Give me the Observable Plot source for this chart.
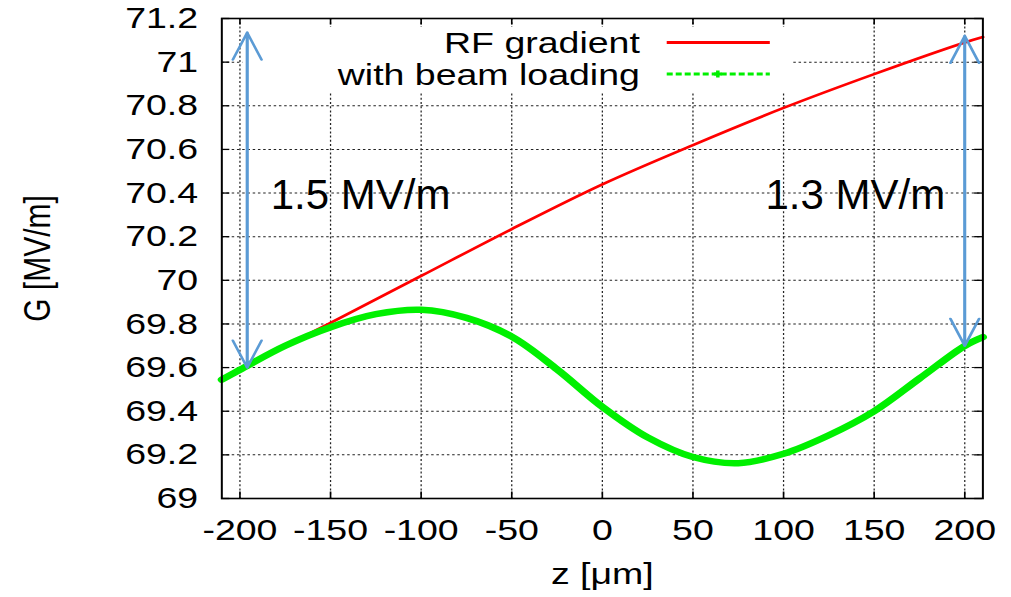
<!DOCTYPE html>
<html>
<head>
<meta charset="utf-8">
<script src="https://cdn.jsdelivr.net/npm/d3@7"></script>
<script src="https://cdn.jsdelivr.net/npm/@observablehq/plot@0.6"></script>
<style>
  html, body { margin: 0; padding: 0; background: #fff; overflow: hidden; }
  #wrap { position: relative; width: 809px; height: 597px; transform: scaleX(1.2497); transform-origin: 0 0; }
</style>
</head>
<body>
<div id="wrap"></div>
<script>
// ---- data ----
const zGreen = [-210, -200, -175, -150, -125, -100, -75, -50, -25, 0, 25, 50, 75, 100, 125, 150, 175, 200, 210];
const gBeam  = [69.545, 69.59, 69.70, 69.785, 69.845, 69.865, 69.828, 69.742, 69.592, 69.42, 69.28, 69.19, 69.162, 69.205, 69.29, 69.40, 69.55, 69.70, 69.74];
const zRed   = [-210, -200, -175, -150, -100, -50, 0, 50, 100, 150, 200, 210];
const gRF    = [69.545, 69.59, 69.70, 69.805, 70.02, 70.235, 70.44, 70.62, 70.79, 70.945, 71.09, 71.115];
const xTicks = [-200, -150, -100, -50, 0, 50, 100, 150, 200];
const yTicks = [69, 69.2, 69.4, 69.6, 69.8, 70, 70.2, 70.4, 70.6, 70.8, 71, 71.2];
const seriesNames = ["RF gradient", "with beam loading"];
const arrowZ  = [-196, 200];
const arrowLo = [69.60, 69.70];
const arrowHi = [71.135, 71.12];
const annText = ["1.5 MV/m", "1.3 MV/m"];
const annZ    = [-183, 90];
const annG    = [70.325, 70.325];

const rf = zRed.map((z, i) => ({z, g: gRF[i]}));
const beam = zGreen.map((z, i) => ({z, g: gBeam[i]}));

const W = 809, H = 597, mL = 177, mR = 23, mT = 18, mB = 99;
const plotW = W - mL - mR, plotH = H - mT - mB;
const tl = 6.5;
const gridStyle = {stroke: "#222", strokeOpacity: 1, strokeWidth: 1, strokeDasharray: "2,2.2"};

const chart = Plot.plot({
  width: W, height: H,
  marginLeft: mL, marginRight: mR, marginTop: mT, marginBottom: mB,
  x: {domain: [-210, 210], labelArrow: "none"},
  y: {domain: [69, 71.2], labelArrow: "none"},
  style: {fontFamily: "'Liberation Sans', Arial, sans-serif", fontSize: "30px", background: "#fff", color: "#000"},
  marks: [
    Plot.gridX(xTicks, gridStyle),
    Plot.gridY(yTicks, gridStyle),
    Plot.line(rf, {x: "z", y: "g", stroke: "#ff0000", strokeWidth: 2.6, curve: "catmull-rom"}),
    Plot.line(beam, {x: "z", y: "g", stroke: "#00f000", strokeWidth: 6.5, curve: "catmull-rom"}),
    Plot.frame({stroke: "#000", strokeWidth: 1.6}),
    Plot.tickX(xTicks, {x: d => d, stroke: "#000", strokeWidth: 1.3, insetBottom: plotH - tl}),
    Plot.tickX(xTicks, {x: d => d, stroke: "#000", strokeWidth: 1.3, insetTop: plotH - tl}),
    Plot.tickY(yTicks, {y: d => d, stroke: "#000", strokeWidth: 1.3, insetRight: plotW - tl}),
    Plot.tickY(yTicks, {y: d => d, stroke: "#000", strokeWidth: 1.3, insetLeft: plotW - tl}),
    Plot.axisX(xTicks, {anchor: "bottom", tickSize: 0, tickPadding: 20, tickFormat: d => String(d),
      label: "z [μm]", labelAnchor: "center", labelOffset: 85, labelArrow: "none"}),
    Plot.axisY(yTicks, {anchor: "left", tickSize: 0, tickPadding: 19, tickFormat: d => String(d),
      label: "G [MV/m]", labelAnchor: "center", labelOffset: 159, labelArrow: "none"}),
    Plot.arrow(arrowZ, {x1: d => d, x2: d => d, y1: (d, i) => arrowLo[i], y2: (d, i) => arrowHi[i],
      stroke: "#5b9bd5", strokeWidth: 2.2, headLength: 20, headAngle: 46}),
    Plot.arrow(arrowZ, {x1: d => d, x2: d => d, y1: (d, i) => arrowHi[i], y2: (d, i) => arrowLo[i],
      stroke: "#5b9bd5", strokeWidth: 2.2, headLength: 20, headAngle: 46}),
    Plot.text(annText, {x: (d, i) => annZ[i], y: (d, i) => annG[i], text: d => d,
      textAnchor: "start", lineAnchor: "bottom", fontSize: 42, fill: "#000"})
  ]
});

// annotations are not horizontally stretched in the reference: undo the wrapper stretch
chart.querySelectorAll('g[aria-label="text"] text').forEach(t => {
  const tr = t.getAttribute("transform");
  if (tr) t.setAttribute("transform", tr + " scale(0.8002,1)");
  else {
    const x = +t.getAttribute("x") || 0, y = +t.getAttribute("y") || 0;
    t.removeAttribute("x"); t.removeAttribute("y");
    t.setAttribute("transform", `translate(${x},${y}) scale(0.8002,1)`);
  }
});

// legend (inside the plot, top right, opaque box), placed below the arrows
const ns = "http://www.w3.org/2000/svg";
const leg = document.createElementNS(ns, "g");
leg.setAttribute("aria-label", "legend");
leg.innerHTML = `
  <rect x="194" y="27" width="440" height="65" fill="#fff"></rect>
  <g font-family="'Liberation Sans', Arial, sans-serif" font-size="30" fill="#000" text-anchor="end">
    <text x="512" y="53">${seriesNames[0]}</text>
    <text x="512" y="85">${seriesNames[1]}</text>
  </g>
  <line x1="533.5" x2="616" y1="42.5" y2="42.5" stroke="#ff0000" stroke-width="2.8"></line>
  <line x1="533.5" x2="616" y1="74" y2="74" stroke="#00f000" stroke-width="2.8" stroke-dasharray="4.8,2.4"></line>
  <path d="M571.4,74H577.4M574.4,70.5V77.5" stroke="#00f000" stroke-width="2.8"></path>
`;
const firstArrow = chart.querySelector('g[aria-label="arrow"]');
if (firstArrow) firstArrow.parentNode.insertBefore(leg, firstArrow);
else chart.appendChild(leg);

document.getElementById("wrap").appendChild(chart);
</script>
</body>
</html>
